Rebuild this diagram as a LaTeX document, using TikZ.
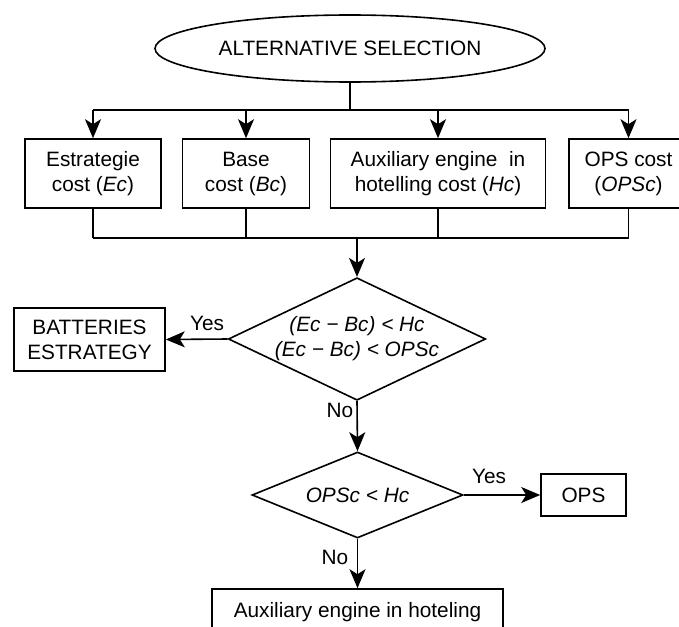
\documentclass[tikz,border=0pt]{standalone}
\usepackage{fontspec}
\setmainfont{Liberation Sans}
\usetikzlibrary{shapes.geometric, arrows.meta, positioning, calc}

\tikzset{
  flowline/.style={line width=1.6pt},
  flowarrow/.style={flowline, -{Stealth[length=19pt,width=16pt,inset=5pt]}},
  startnode/.style={draw, ellipse, line width=1.6pt, minimum width=390pt, minimum height=67pt, inner sep=0pt},
  costbox/.style={draw, line width=1.6pt, minimum height=69pt, align=center, inner sep=0pt},
  resultbox/.style={draw, line width=1.6pt, align=center, inner sep=0pt},
  decision/.style={draw, diamond, line width=1.6pt, align=center, inner sep=0pt},
  branchlbl/.style={inner sep=0pt},
}

\begin{document}
\begin{tikzpicture}[x=1pt,y=1pt, font=\fontsize{20.8}{25}\selectfont]
  \path[use as bounding box] (0,0) rectangle (679,-626);
  \clip (0,0) rectangle (679,-626);

  % Start
  \node[startnode] (start) at (350,-48.5) {ALTERNATIVE SELECTION};
  \coordinate (split) at (350,-110);
  \coordinate (join) at (357,-238);

  % Cost boxes
  \foreach \nm/\cx/\bw/\txt in {
    ec/93/136/{Estrategie\\cost (\textit{Ec})},
    bc/246/127/{Base\\cost (\textit{Bc})},
    hc/438/215/{Auxiliary engine\ \ in\\hotelling cost (\textit{Hc})},
    opsc/628.5/119/{OPS cost\\(\textit{OPSc})}}{
    \node[costbox, minimum width=\bw] (\nm) at (\cx,-173.5) {\txt};
  }

  \draw[flowline] (start.south) -- (split);
  \draw[flowline] (ec.north |- split) -- (opsc.north |- split);
  \foreach \nm in {ec,bc,hc,opsc}{
    \draw[flowarrow] (\nm.north |- split) -- (\nm.north);
    \draw[flowline] (\nm.south) -- (\nm.south |- join);
  }
  \draw[flowline] (ec.south |- join) -- (opsc.south |- join);

  % First decision
  \node[decision, minimum width=252pt, minimum height=120pt, shape aspect=2.1] (dec1) at (357,-339)
    {\textit{(Ec − Bc) < Hc}\\\textit{(Ec − Bc) < OPSc}};
  \node[resultbox, minimum width=151pt, minimum height=63pt] (bat) at (89.5,-339.5) {BATTERIES\\ESTRATEGY};
  \draw[flowarrow] (join) -- (dec1.north);
  \draw[flowarrow] (dec1.west) -- (bat.east);
  \node[branchlbl] (yes1) at (207,-323) {Yes};

  % Second decision
  \node[decision, minimum width=211pt, minimum height=86pt, shape aspect=2.45] (dec2) at (357.5,-495)
    {\textit{OPSc < Hc}};
  \node[resultbox, minimum width=85pt, minimum height=42pt] (ops) at (583.5,-495) {OPS};
  \node[resultbox, minimum width=291pt, minimum height=46pt] (aux) at (357.5,-612) {Auxiliary engine in hoteling};
  \draw[flowarrow] (dec1.south) -- (dec2.north);
  \node[branchlbl] (no1) at (340,-410) {No};
  \draw[flowarrow] (dec2.east) -- (ops.west);
  \node[branchlbl] (yes2) at (489,-476) {Yes};
  \draw[flowarrow] (dec2.south) -- (aux.north);
  \node[branchlbl] (no2) at (335,-557) {No};
\end{tikzpicture}
\end{document}
